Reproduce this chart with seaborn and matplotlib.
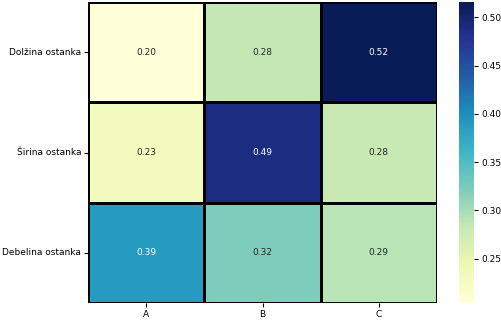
import numpy as np
import pandas as pd
import seaborn as sns
import matplotlib
matplotlib.use("Agg")
import matplotlib.pyplot as plt

rows = ["Dolžina ostanka", "Širina ostanka", "Debelina ostanka"]
cols = ["A", "B", "C"]
row_dolzina = [0.204, 0.284, 0.516]
row_sirina = [0.232, 0.489, 0.281]
row_debelina = [0.389, 0.322, 0.290]

df = pd.DataFrame([row_dolzina, row_sirina, row_debelina], index=rows, columns=cols)

plt.rcParams['font.family'] = ['DejaVu Sans']
plt.rcParams['font.size'] = 6.5

fig = plt.figure(figsize=(5.02, 3.22), dpi=100)
ax = fig.add_axes([88/502, 1-303/322, (437-88)/502, (303-2)/322])
cax = fig.add_axes([459/502, 1-303/322, 15/502, (303-2)/322])
sns.heatmap(df, ax=ax, cbar_ax=cax, cmap="YlGnBu", annot=True, fmt=".2f",
            linewidths=0.8, linecolor="black", annot_kws={"size": 6.5})
ax.tick_params(axis='y', rotation=0, labelsize=6.5, length=3, pad=2)
ax.tick_params(axis='x', labelsize=6.5, length=3, pad=2)
cax.tick_params(labelsize=6.5, length=3, pad=2)
cax.yaxis.set_major_locator(matplotlib.ticker.MultipleLocator(0.05))
fig.savefig("out.png", dpi=100)
